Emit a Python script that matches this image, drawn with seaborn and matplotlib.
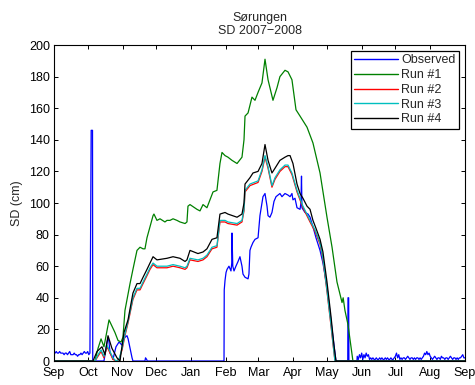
import numpy as np
import pandas as pd
import matplotlib
matplotlib.use("Agg")
import matplotlib.pyplot as plt
import seaborn as sns

sns.set_theme(style="white")
plt.rcParams["font.family"] = ["Liberation Sans", "DejaVu Sans"]

# Snow depth, x = days since 1 Sep 2007
obs_day = (
    list(range(0, 33))
    + [33.1, 33.3, 34.3, 34.5,
       44.5, 46.3, 48.1, 49.0, 49.9, 51.6, 52.5, 55.2, 57.0, 57.9, 60.6, 61.4,
       63.2, 65.0, 66.0, 67.7, 69.5, 70.3,
       81.0, 81.5, 82.5, 83.0,
       151.4, 151.6, 152.3, 153.2, 154.1, 155.8, 157.6, 158.3, 158.5, 159.2,
       160.3, 162.0, 163.9, 165.6, 167.4, 168.3, 170.1, 172.8, 173.6, 174.5,
       175.4, 177.2, 179.0, 181.7, 183.4, 184.3, 186.1, 187.9, 189.7, 190.6,
       192.3, 194.1, 195.9, 197.7, 201.2, 203.0, 205.7, 208.4, 210.2, 211.9,
       212.8, 214.6, 216.4, 219.1, 219.9, 220.4, 220.8, 223.5, 226.2, 228.0,
       230.6, 233.3, 236.9, 239.5, 243.1, 246.7, 249.3, 251.1,
       261.6, 261.8, 262.4, 262.6, 269.8]
    + list(range(270, 367))
)
obs_sd = (
    [5, 5, 6, 5, 5, 6, 5, 5, 5, 4, 5, 5, 4, 5, 6, 4, 4, 4, 5, 4, 4, 3, 4,
     4, 5, 4, 5, 6, 5, 5, 6, 4, 5]
    + [146, 146, 146, 0,
       0, 8, 15, 12, 5, 3, 1, 9, 11, 12, 10, 13,
       15, 16, 14, 8, 2, 0,
       0, 2, 1, 0,
       0, 45, 51, 56, 58, 60, 57, 62, 81, 60,
       57, 60, 63, 66, 60, 55, 53, 52, 55, 70,
       72, 75, 77, 78, 92, 96, 104, 106, 98, 92,
       91, 94, 101, 104, 106, 104, 106, 105, 104, 106,
       102, 103, 97, 96, 100, 117, 97, 94, 93, 91,
       85, 78, 70, 62, 47, 25, 10, 0,
       0, 40, 40, 0, 0]
    + [3, 1, 4, 2, 5, 1, 4, 2, 5, 3, 4, 1, 2, 1, 2, 1, 1, 2, 1, 1,
       2, 1, 2, 1, 1, 2, 1, 2, 1, 1, 2, 1, 1, 2, 3, 5, 2, 4, 1, 2,
       1, 2, 2, 1, 2, 3, 2, 1, 2, 2, 1, 2, 1, 2, 2, 1, 2, 1, 2, 3,
       5, 4, 6, 4, 5, 3, 2, 1, 2, 3, 2, 1, 2, 2, 1, 3, 2, 2, 1, 2,
       2, 1, 2, 3, 2, 1, 2, 2, 1, 2, 1, 2, 2, 3, 4, 2, 2]
)

run1_day = [0, 36.5, 39.2, 41.9, 44.5, 49.0, 54.3, 57.0, 59.7, 61.4, 63.2, 67.7,
            70.3, 72.1, 73.9, 76.6, 79.3, 81.0, 82.8, 85.5, 88.2, 89.0, 91.7,
            94.4, 98.8, 100.6, 103.3, 106.0, 109.5, 112.2, 116.7, 118.4, 119.3,
            121.1, 127.3, 130.0, 132.7, 136.2, 138.9, 141.6, 145.1, 147.8, 149.6,
            152.3, 154.9, 158.5, 163.0, 167.4, 169.2, 170.1, 172.8, 176.3, 179.0,
            181.7, 185.2, 187.9, 190.6, 195.0, 198.6, 201.2, 205.7, 208.4, 211.9,
            215.5, 219.1, 225.3, 230.6, 236.9, 243.1, 247.6, 252.0, 256.5, 257.5,
            259.1, 261.8, 266.2, 366]
run1_sd = [0, 0, 8, 14, 9, 26, 18, 13, 12, 15, 32, 49,
           58, 64, 70, 72, 71, 71, 78, 85, 92, 93, 89,
           90, 88, 89, 89, 90, 89, 88, 87, 88, 98,
           99, 96, 95, 99, 97, 102, 107, 108, 125, 132,
           130, 129, 127, 125, 129, 140, 155, 157, 167, 165,
           170, 176, 191, 178, 165, 173, 180, 184, 183, 178,
           159, 155, 148, 138, 119, 91, 72, 50, 37, 40,
           32, 23, 0, 0]

run2_day = [0, 36.5, 39.2, 41.9, 44.5, 47.2, 49.9, 52.5, 55.2, 57.9, 60.6, 63.2,
            65.9, 70.3, 73.9, 76.6, 79.3, 82.8, 85.5, 88.2, 91.7, 100.6, 106.0,
            112.2, 116.7, 118.4, 121.1, 128.2, 132.7, 136.2, 140.7, 145.1, 147.8,
            152.3, 154.9, 163.0, 167.4, 169.2, 170.1, 174.5, 181.7, 185.2, 187.9,
            190.6, 194.1, 196.8, 201.2, 205.7, 208.4, 211.9, 216.4, 221.7, 228.0,
            232.4, 236.9, 239.5, 243.1, 246.7, 248.4, 250.2, 366]
run2_sd = [0, 0, 3, 6, 2, 9, 5, 1, 0, 1, 7, 16,
           24, 39, 45, 45, 49, 54, 58, 61, 59, 59, 60,
           59, 58, 59, 64, 63, 64, 66, 71, 72, 88,
           88, 87, 86, 88, 95, 107, 111, 113, 120, 129,
           122, 110, 115, 120, 123, 123, 118, 107, 97, 88,
           82, 74, 64, 44, 22, 11, 0, 0]

run3_day = list(run2_day)
run3_sd = [0, 0, 4, 7, 3, 10, 6, 2, 0, 1, 8, 17,
           25, 40, 46, 46, 50, 55, 59, 62, 60, 60, 61,
           60, 59, 60, 65, 64, 65, 67, 72, 73, 89,
           89, 88, 87, 89, 96, 108, 112, 114, 121, 130,
           123, 111, 116, 121, 124, 124, 119, 108, 98, 89,
           83, 75, 65, 45, 23, 12, 0, 0]

run4_day = [0, 34.7, 38.3, 42.7, 45.4, 48.1, 51.6, 56.1, 58.8, 59.7, 62.3, 65.9,
            70.3, 73.9, 76.6, 79.3, 82.8, 85.5, 88.2, 91.7, 100.6, 106.0, 112.2,
            116.7, 118.4, 121.1, 128.2, 132.7, 136.2, 140.7, 145.1, 147.8, 152.3,
            154.9, 163.0, 167.4, 169.2, 170.1, 174.5, 177.2, 181.7, 185.2, 187.9,
            190.6, 194.1, 196.8, 201.2, 205.7, 208.4, 210.2, 212.8, 216.4, 219.1,
            221.7, 225.3, 228.0, 230.6, 233.3, 236.9, 239.5, 243.1, 246.7, 249.3,
            251.1, 366]
run4_sd = [0, 0, 6, 9, 4, 16, 8, 2, 0, 5, 18, 26,
           43, 49, 49, 53, 58, 62, 66, 64, 65, 66, 65,
           63, 64, 70, 68, 69, 71, 77, 78, 93, 94,
           93, 91, 93, 100, 112, 116, 119, 120, 125, 137,
           127, 119, 122, 127, 129, 130, 130, 125, 112, 106,
           103, 98, 96, 89, 84, 77, 69, 50, 28, 10,
           0, 0]

series_names = ["Observed", "Run #1", "Run #2", "Run #3", "Run #4"]
series_colors = ["#0000ff", "#008000", "#ff0000", "#00bfbf", "#000000"]
month_labels = ["Sep", "Oct", "Nov", "Dec", "Jan", "Feb", "Mar",
                "Apr", "May", "Jun", "Jul", "Aug", "Sep"]
month_start = pd.date_range("2007-09-01", "2008-09-01", freq="MS")
month_ticks = (month_start - month_start[0]).days.to_numpy()

frames = []
for name, d, v in zip(series_names,
                      [obs_day, run1_day, run2_day, run3_day, run4_day],
                      [obs_sd, run1_sd, run2_sd, run3_sd, run4_sd]):
    frames.append(pd.DataFrame({"day": d, "sd": v, "series": name}))
df = pd.concat(frames, ignore_index=True)

fig = plt.figure(figsize=(4.75, 3.85), dpi=100)
ax = fig.add_axes([54 / 475, 1 - 361 / 385, 411 / 475, 316 / 385])

sns.lineplot(data=df, x="day", y="sd", hue="series", hue_order=series_names,
             palette=dict(zip(series_names, series_colors)),
             estimator=None, sort=False, linewidth=0.9, ax=ax)

ax.set_xlim(0, month_ticks[-1])
ax.set_ylim(0, 200)
ax.set_xticks(month_ticks)
ax.set_xticklabels(month_labels)
ax.set_yticks(np.arange(0, 201, 20))
ax.tick_params(direction="in", length=3, width=0.7, colors="black",
               labelsize=9, top=True, right=True, bottom=True, left=True)
ax.tick_params(axis="x", pad=4.5)
ax.tick_params(axis="y", pad=3)
for s in ax.spines.values():
    s.set_color("black")
    s.set_linewidth(0.8)

ax.set_xlabel("")
ax.set_ylabel("SD (cm)", fontsize=9, labelpad=4)
ax.set_title("Sørungen\nSD 2007\u22122008", fontsize=9, pad=8, linespacing=1.15)

handles, labels = ax.get_legend_handles_labels()
leg = ax.legend(handles, labels, loc="upper right", fontsize=9,
                frameon=True, fancybox=False, framealpha=1, edgecolor="black",
                handlelength=3.5, handletextpad=0.25, labelspacing=0.22,
                borderpad=0.3, borderaxespad=0.45)
leg.get_frame().set_linewidth(0.9)
for line in leg.get_lines():
    line.set_linewidth(1.0)

fig.savefig("out.png", dpi=100)
